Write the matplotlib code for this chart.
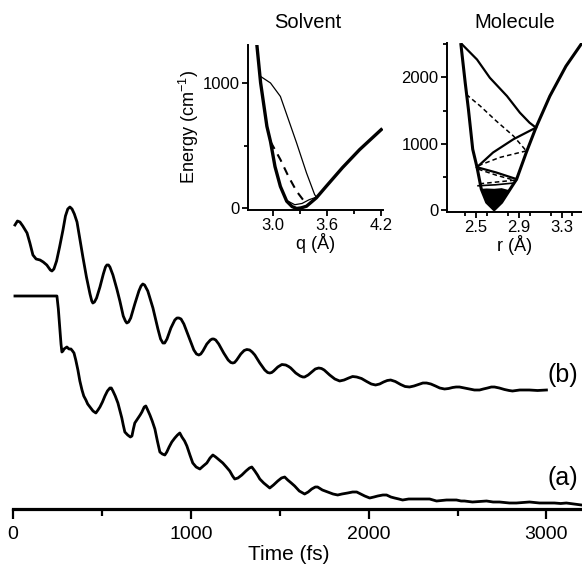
import matplotlib
matplotlib.use("Agg")
import matplotlib.pyplot as plt
from matplotlib.ticker import MultipleLocator

plt.rcParams['font.family'] = ['Liberation Sans', 'DejaVu Sans']
plt.rcParams['mathtext.fontset'] = 'custom'
plt.rcParams['mathtext.rm'] = 'Liberation Sans'
plt.rcParams['mathtext.it'] = 'Liberation Sans:italic'

# ---- main traces (time in fs, signal in arbitrary units) ----
b_t = [11, 25, 39, 55, 79, 95, 112, 130, 152, 170, 190, 210, 219, 230, 245, 262, 281, 295,
       308, 320, 332, 345, 360, 376, 393, 413, 433, 443, 449, 458, 470, 489, 508, 520, 528,
       537, 545, 562, 584, 601, 620, 632, 640, 650, 662, 685, 708, 720, 730, 740, 758, 787,
       815, 830, 843, 853, 866, 888, 910, 922, 933, 945, 961, 989, 1017, 1032, 1045, 1056,
       1068, 1090, 1110, 1120, 1129, 1140, 1157, 1185, 1210, 1225, 1236, 1246, 1258, 1281,
       1300, 1315, 1331, 1345, 1360, 1388, 1416, 1432, 1444, 1455, 1466, 1489, 1512, 1534,
       1550, 1562, 1590, 1615, 1630, 1640, 1660, 1680, 1700, 1719, 1735, 1750, 1781, 1810,
       1837, 1862, 1888, 1910, 1933, 1960, 1989, 2015, 2039, 2062, 2084, 2105, 2124, 2150,
       2180, 2205, 2230, 2255, 2281, 2305, 2326, 2350, 2376, 2400, 2427, 2450, 2472, 2492,
       2511, 2540, 2567, 2595, 2624, 2645, 2669, 2690, 2708, 2735, 2764, 2790, 2809, 2850,
       2904, 2950, 3000]
b_y = [284, 288, 287, 283, 276, 266, 254, 250, 249, 247, 244, 239, 238, 240, 248, 262, 279, 293,
       300, 302, 300, 295, 287, 270, 252, 232, 215, 208, 206, 207, 211, 222, 235, 242, 244,
       244, 242, 234, 220, 208, 193, 188, 186, 187, 191, 205, 218, 223, 225, 224, 218, 201,
       180, 170, 166, 166, 170, 181, 189, 191, 191, 190, 185, 172, 159, 155, 154, 155,
       158, 165, 169, 170, 170, 169, 165, 156, 149, 146.5, 146, 146.5, 149, 155,
       158.5, 159.5, 159, 157, 154, 146, 139, 136.5, 136, 136.5, 138, 142, 144.5, 144,
       142.5, 141, 136, 133, 132, 132, 134, 137, 140, 141, 140.5, 139, 134, 130,
       128, 129, 131, 132.5, 132, 130.5, 127.5, 125, 124, 125, 127, 128.5, 129, 127.5,
       124.5, 122.5, 122, 123, 124.5, 126, 126, 125, 123, 121, 120, 120.5, 121.5, 122,
       122, 121, 120, 119, 119, 120, 121, 122, 122, 121, 119.5, 118.5, 118, 119,
       119, 118.5, 119]

a_t = [11, 120, 247, 255, 264, 270, 275, 281, 287, 295, 303, 315, 326, 335, 343, 353, 365,
       376, 388, 398, 410, 420, 433, 450, 466, 478, 489, 503, 517, 531, 545, 553, 562, 575,
       590, 600, 612, 620, 629, 645, 660, 669, 677, 685, 700, 715, 725, 738, 747, 755, 770,
       783, 798, 812, 826, 840, 854, 865, 878, 893, 910, 925, 938, 950, 965, 978, 995, 1011,
       1030, 1051, 1070, 1090, 1108, 1124, 1140, 1160, 1180, 1200, 1219, 1235, 1247, 1265,
       1287, 1310, 1330, 1343, 1360, 1375, 1388, 1410, 1430, 1444, 1465, 1489, 1510, 1528,
       1545, 1565, 1584, 1610, 1640, 1660, 1680, 1700, 1713, 1740, 1770, 1800, 1826, 1850,
       1882, 1910, 1933, 1955, 1978, 2006, 2030, 2051, 2080, 2101, 2125, 2146, 2170, 2191,
       2225, 2258, 2300, 2343, 2382, 2410, 2438, 2465, 2494, 2520, 2539, 2560, 2584, 2620,
       2663, 2700, 2736, 2765, 2792, 2831, 2870, 2905, 2935, 2961, 3000, 3045, 3080, 3112,
       3157, 3197]
a_y = [213, 213, 213, 200, 179, 165, 157, 158, 160, 161, 162, 160, 160, 158, 156, 149, 139,
       128, 119, 113, 109, 105, 102, 98, 96, 99, 102, 107, 113, 118, 121, 121, 118, 113,
       106, 99, 91, 84, 77, 74, 72, 73, 80, 86, 90, 94, 97, 102, 103, 100, 94,
       88, 80, 68, 57, 55, 54, 57, 62, 67, 71, 74, 76, 72, 68, 63, 54, 46,
       42, 40, 43, 46, 51, 54, 52, 49, 46, 42, 38, 33, 30, 31,
       34, 38, 41, 42, 38, 34, 30, 26, 23, 21, 24, 28, 31, 32,
       29, 26, 23, 18, 15, 17, 20, 22, 22, 19, 17, 15, 14, 15,
       16, 17, 17, 15, 13, 11, 12, 13, 14, 14, 12, 11, 10, 9,
       10, 10, 10, 10, 8, 8.5, 9, 9, 9, 8, 8, 7.5, 7, 7.5,
       8, 7, 7, 6.5, 6, 6, 6.5, 7, 6.5, 6, 6, 6, 5.5, 6,
       5, 4]

# ---- solvent inset (q in Angstrom, energy in cm-1) ----
sol_pot_q = [2.82, 2.86, 2.93, 2.97, 3.02, 3.08, 3.15, 3.21, 3.26, 3.31, 3.37, 3.48,
             3.59, 3.77, 3.96, 4.20]
sol_pot_e = [1290, 1000, 653, 532, 333, 175, 58, 15, 0, 5, 18, 85,
             177, 325, 468, 627]
sol_thin_q = [2.86, 2.97, 3.08, 3.17, 3.26, 3.37, 3.46, 3.48]
sol_thin_e = [1050, 998, 891, 706, 521, 283, 111, 90]
sol_dash_q = [2.97, 3.08, 3.17, 3.26, 3.33, 3.36]
sol_dash_e = [532, 389, 254, 137, 71, 45]
sol_low_q = [3.16, 3.24, 3.32, 3.40, 3.48]
sol_low_e = [60, 30, 40, 70, 90]

# ---- molecule inset (r in Angstrom, energy in cm-1) ----
mol_pot_r = [2.36, 2.40, 2.43, 2.47, 2.51, 2.55, 2.60, 2.67, 2.74, 2.82, 2.88, 2.97,
             3.06, 3.19, 3.34, 3.49]
mol_pot_e = [2496, 1920, 1519, 917, 646, 316, 116, 5, 116, 316, 466, 868,
             1243, 1719, 2170, 2521]
mol_top_r = [2.37, 2.51, 2.63, 2.79, 2.91, 3.00, 3.06]
mol_top_e = [2500, 2271, 1995, 1719, 1469, 1318, 1243]
mol_s1_r = [3.06, 2.85, 2.66, 2.51]
mol_s1_e = [1243, 1068, 868, 646]
mol_s2_r = [2.51, 2.69, 2.88]
mol_s2_e = [646, 566, 466]
mol_s3_r = [2.52, 2.68, 2.84]
mol_s3_e = [366, 380, 405]
mol_d1_r = [2.41, 2.54, 2.69, 2.85, 2.97]
mol_d1_e = [1744, 1569, 1343, 1117, 892]
mol_d2_r = [2.97, 2.72, 2.52]
mol_d2_e = [892, 792, 667]
mol_d3_r = [2.52, 2.70, 2.88]
mol_d3_e = [617, 520, 441]
mol_d4_r = [2.86, 2.68, 2.53]
mol_d4_e = [450, 420, 395]
mol_blob_r = [2.55, 2.60, 2.67, 2.74, 2.81, 2.74, 2.67, 2.60]
mol_blob_e = [320, 116, 5, 116, 300, 330, 320, 325]

fig = plt.figure(figsize=(5.82, 5.71), dpi=100)

ax = fig.add_axes([13/582, 62/571, 569/582, 320/571])
ax.patch.set_alpha(0)
ax.plot(b_t, b_y, color='black', lw=2.0, solid_joinstyle='round')
ax.plot(a_t, a_y, color='black', lw=2.0, solid_joinstyle='round')
ax.set_xlim(0, 3200)
ax.set_ylim(0, 320)
for s in ['left', 'right', 'top']:
    ax.spines[s].set_visible(False)
ax.spines['bottom'].set_linewidth(2.3)
ax.set_yticks([])
ax.xaxis.set_major_locator(MultipleLocator(1000))
ax.xaxis.set_minor_locator(MultipleLocator(500))
ax.tick_params(axis='x', which='major', length=7, width=1.6, labelsize=14, pad=5)
ax.tick_params(axis='x', which='minor', length=5, width=1.6)
ax.set_xlabel('Time (fs)', fontsize=15, labelpad=2)
ax.xaxis.label.set_x(0.485)
ax.text(3090, 134, '(b)', fontsize=18, ha='center', va='center')
ax.text(3090, 31, '(a)', fontsize=18, ha='center', va='center')

# solvent inset
ax1 = fig.add_axes([248/582, (571-210)/571, 135/582, 165/571])
ax1.patch.set_alpha(0)
ax1.plot(sol_pot_q, sol_pot_e, color='black', lw=2.4, solid_joinstyle='round')
ax1.plot(sol_thin_q, sol_thin_e, color='black', lw=0.9)
ax1.plot(sol_dash_q, sol_dash_e, color='black', lw=1.5, dashes=(4, 3))
ax1.plot(sol_low_q, sol_low_e, color='black', lw=0.9)
ax1.set_xlim(2.72, 4.22)
ax1.set_ylim(-12, 1300)
ax1.set_xticks([3.0, 3.6, 4.2])
ax1.set_xticklabels(['3.0', '3.6', '4.2'])
ax1.xaxis.set_minor_locator(MultipleLocator(0.3))
ax1.set_yticks([0, 1000])
ax1.yaxis.set_minor_locator(MultipleLocator(500))
ax1.set_xlabel('q (\u00c5)', fontsize=13, labelpad=0)
ax1.set_ylabel('Energy (cm$^{-1}$)', fontsize=13, labelpad=1)
fig.text(308/582, 1 - 23/571, 'Solvent', fontsize=14.5, ha='center', va='center')

# molecule inset
ax2 = fig.add_axes([447/582, (571-212)/571, 135/582, 169/571])
ax2.patch.set_alpha(0)
ax2.fill(mol_blob_r, mol_blob_e, color='black', lw=0)
ax2.plot(mol_pot_r, mol_pot_e, color='black', lw=2.2, solid_joinstyle='round')
ax2.plot(mol_top_r, mol_top_e, color='black', lw=1.6)
ax2.plot(mol_s1_r, mol_s1_e, color='black', lw=1.6)
ax2.plot(mol_s2_r, mol_s2_e, color='black', lw=1.6)
ax2.plot(mol_s3_r, mol_s3_e, color='black', lw=1.2)
for r, e in [(mol_d1_r, mol_d1_e), (mol_d2_r, mol_d2_e), (mol_d3_r, mol_d3_e), (mol_d4_r, mol_d4_e)]:
    ax2.plot(r, e, color='black', lw=1.1, dashes=(3, 2))
ax2.set_xlim(2.23, 3.49)
ax2.set_ylim(-30, 2520)
ax2.set_xticks([2.5, 2.9, 3.3])
ax2.xaxis.set_minor_locator(MultipleLocator(0.2))
ax2.set_yticks([0, 1000, 2000])
ax2.yaxis.set_minor_locator(MultipleLocator(500))
ax2.set_xlabel('r (\u00c5)', fontsize=13, labelpad=0)
fig.text(515/582, 1 - 23/571, 'Molecule', fontsize=14.5, ha='center', va='center')

for a in (ax1, ax2):
    for s in ['right', 'top']:
        a.spines[s].set_visible(False)
    a.spines['left'].set_linewidth(1.4)
    a.spines['bottom'].set_linewidth(1.4)
    a.tick_params(which='major', direction='out', length=4, width=1.3, labelsize=12, pad=2)
    a.tick_params(which='minor', direction='out', length=3, width=1.3)

fig.savefig('out.png', dpi=100)
